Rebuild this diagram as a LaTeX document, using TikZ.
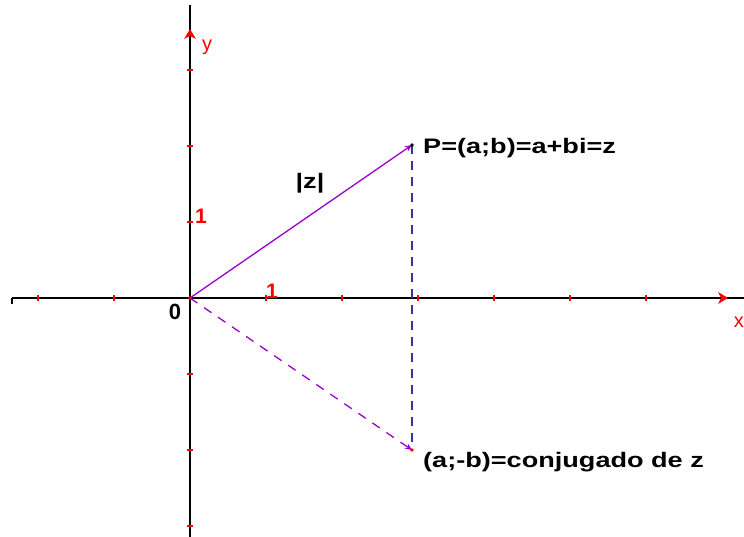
\documentclass[tikz,border=0pt]{standalone}
\usepackage{fontspec}
\setmainfont{Liberation Sans}
\usetikzlibrary{arrows.meta}
\definecolor{vecpurple}{RGB}{153,0,204}
\definecolor{dashblue}{RGB}{51,51,170}
\definecolor{tickred}{RGB}{255,0,0}
\newcommand{\widetxt}[1]{\scalebox{1.29}[1]{#1}}
\tikzset{
  axis/.style={line width=2pt, black},
  tickmark/.style={tickred, line width=2pt},
  lbl/.style={font=\fontsize{21}{21}\selectfont\bfseries, inner sep=0pt, anchor=west},
  redlbl/.style={font=\fontsize{21}{21}\selectfont\bfseries, tickred, inner sep=0pt},
  vec/.style={vecpurple, line width=1.3pt},
}
\begin{document}
\begin{tikzpicture}[x=1pt,y=-1pt]
\useasboundingbox (0,0) rectangle (744,537);
% axes
\coordinate (xl) at (12,298);
\coordinate (xr) at (744,298);
\coordinate (yt) at (190,5);
\coordinate (yb) at (190,537);
\coordinate (O) at (190,298);
\draw[axis] (xl) -- (xr);
\draw[axis] (12,298) -- (12,304);
\draw[axis] (yb) -- (yt);
% arrowheads on axes (red)
\coordinate (xarr) at (724,298);
\coordinate (yarr) at (190,33);
\fill[tickred] (xarr) ++(4,0) -- ++(-10,-6) -- ++(3,6) -- ++(-3,6) -- cycle;
\fill[tickred] (yarr) ++(0,-4) -- ++(-6,10) -- ++(6,-3) -- ++(6,3) -- cycle;
% ticks
\foreach \t in {38,114,266,342,418,494,570,646}
  \draw[tickmark] (\t,295) -- (\t,301);
\foreach \t in {70,146,222,374,450,526}
  \draw[tickmark] (187,\t) -- (193,\t);
% axis labels
\node[font=\fontsize{20}{20}\selectfont, text=tickred, inner sep=0pt] (ylab) at (207,47) {y};
\node[font=\fontsize{20}{20}\selectfont, text=tickred, inner sep=0pt, anchor=east] (xlab) at (744,322) {x};
\node[redlbl] (one1) at (272,291) {1};
\node[redlbl] (one2) at (201,216) {1};
\node[font=\fontsize{22}{22}\selectfont\bfseries, inner sep=0pt] (zero) at (175,312) {0};
% points
\coordinate (P) at (412,145);
\coordinate (Q) at (412,450);
\draw[dashblue, line width=1.5pt, dash pattern=on 9pt off 7pt] (P) -- (Q);
\draw[vec, -{Stealth[length=7pt,width=6pt]}] (O) -- (P);
\draw[vec, dash pattern=on 9pt off 8pt, -{Stealth[length=7pt,width=6pt]}] (O) -- (Q);
\fill[black] (P) circle (1.8pt);
\fill[tickred] (Q) circle (1.8pt);
\fill[tickred] (O) circle (1.8pt);
\node[lbl] (Plab) at (423,148) {\widetxt{P=(a;b)=a+bi=z}};
\node[lbl] (Qlab) at (423,462) {\widetxt{(a;-b)=conjugado de z}};
\node[lbl, anchor=center] (mod) at (310,183) {\widetxt{|z|}};
\end{tikzpicture}
\end{document}
